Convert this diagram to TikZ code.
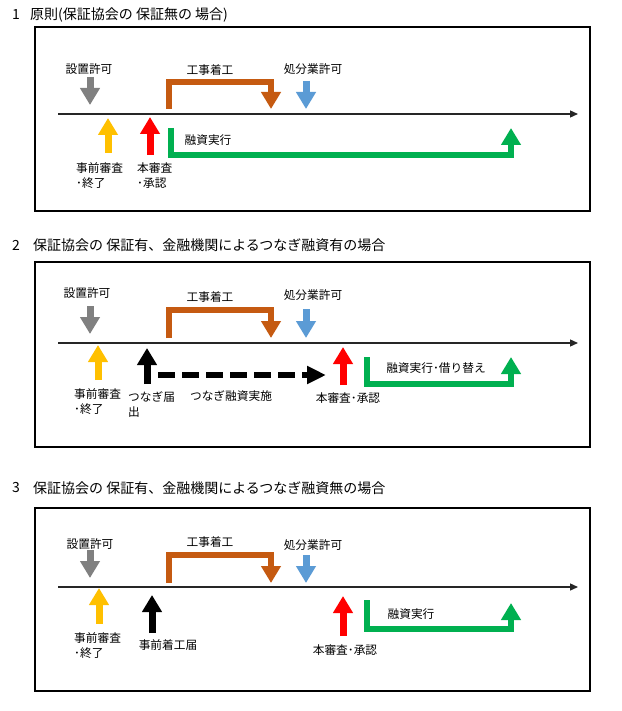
\documentclass[tikz,border=0pt]{standalone}
\usepackage{fontspec}
\setmainfont{Noto Sans CJK JP}
\usetikzlibrary{arrows.meta}
\definecolor{cgray}{HTML}{808080}
\definecolor{corange}{HTML}{C55A11}
\definecolor{cblue}{HTML}{5B9BD5}
\definecolor{cyellow}{HTML}{FFC000}
\definecolor{cred}{HTML}{FF0000}
\definecolor{cgreen}{HTML}{00B050}
\begin{document}
\begin{tikzpicture}[x=1pt,y=-1pt,
  lbl/.style={inner sep=0pt, font=\fontsize{11.7}{15}\selectfont, align=left},
  ttl/.style={inner sep=0pt, font=\fontsize{14}{16}\selectfont, anchor=west},
  frame/.style={draw=black, line width=1.1pt},
  tline/.style={draw=black!85, line width=1.3pt, -{Triangle[width=7pt,length=8pt]}},
  blk/.style={line width=7pt, -{Triangle[width=19pt,length=17pt]}},
  brk/.style={line width=6.5pt, line join=miter, -{Triangle[width=19pt,length=17pt]}},
  dsh/.style={line width=6pt, dash pattern=on 17pt off 7pt, -{Triangle[width=17pt,length=19pt]}}
]
\useasboundingbox (0,0) rectangle (621,711);
\fill[white] (0,0) rectangle (621,711);

% ---------------- Panel 1 ----------------
\node[ttl] (t1n) at (12,15) {1};
\node[ttl] (t1) at (30,15) {原則(保証協会の 保証無の 場合)};
\draw[frame] (35,27) rectangle (590,211);
\coordinate (a1) at (58,114); \coordinate (b1) at (578,114);
\draw[tline] (a1) -- (b1);
\draw[blk, cgray] (90,77) -- (90,105);
\node[lbl] (s1) at (89,69) {設置許可};
\draw[brk, corange] (169,109) -- (169,82) -- (271,82) -- (271,109);
\node[lbl] (k1) at (210,70) {工事着工};
\draw[blk, cblue] (306,81) -- (306,109);
\node[lbl] (h1) at (313,69) {処分業許可};
\draw[blk, cyellow] (108,153) -- (108,118);
\node[lbl, anchor=west] (j1) at (76,175.5) {事前審査\\･終了};
\draw[blk, cred] (150,155) -- (150,117);
\node[lbl, anchor=west] (r1) at (137,175.5) {本審査\\･承認};
\draw[brk, cgreen] (171,128) -- (171,155) -- (511,155) -- (511,128);
\node[lbl] (y1) at (208,140) {融資実行};

% ---------------- Panel 2 ----------------
\node[ttl] (t2n) at (12,245) {2};
\node[ttl] (t2) at (33,245) {保証協会の 保証有、金融機関によるつなぎ融資有の場合};
\draw[frame] (35,262) rectangle (590,447);
\coordinate (a2) at (58,343); \coordinate (b2) at (578,343);
\draw[tline] (a2) -- (b2);
\draw[blk, cgray] (90,306) -- (90,334);
\node[lbl] (s2) at (87,293) {設置許可};
\draw[brk, corange] (169,338) -- (169,310) -- (271,310) -- (271,338);
\node[lbl] (k2) at (210,297) {工事着工};
\draw[blk, cblue] (306,309) -- (306,338);
\node[lbl] (h2) at (313,295) {処分業許可};
\draw[blk, cyellow] (98,380) -- (98,345);
\node[lbl, anchor=west] (j2) at (74,402) {事前審査\\･終了};
\draw[blk, black] (147,384) -- (147,348);
\node[lbl, anchor=west] (n2) at (128,404.5) {つなぎ届\\出};
\draw[dsh, black] (158,375) -- (326,375);
\node[lbl] (d2) at (231,396) {つなぎ融資実施};
\draw[blk, cred] (343,385) -- (343,347);
\node[lbl] (r2) at (348,398) {本審査･承認};
\draw[brk, cgreen] (367,357) -- (367,384) -- (511,384) -- (511,357);
\node[lbl] (y2) at (436,368) {融資実行･借り替え};

% ---------------- Panel 3 ----------------
\node[ttl] (t3n) at (12,488) {3};
\node[ttl] (t3) at (33,488) {保証協会の 保証有、金融機関によるつなぎ融資無の場合};
\draw[frame] (35,508) rectangle (590,691);
\coordinate (a3) at (58,587); \coordinate (b3) at (578,587);
\draw[tline] (a3) -- (b3);
\draw[blk, cgray] (90,550) -- (90,578);
\node[lbl] (s3) at (90,544) {設置許可};
\draw[brk, corange] (169,583) -- (169,555) -- (271,555) -- (271,583);
\node[lbl] (k3) at (210,542) {工事着工};
\draw[blk, cblue] (306,555) -- (306,583);
\node[lbl] (h3) at (313,545) {処分業許可};
\draw[blk, cyellow] (99,624) -- (99,588);
\node[lbl, anchor=west] (j3) at (74,645.5) {事前審査\\･終了};
\draw[blk, black] (152,633) -- (152,595);
\node[lbl] (z3) at (168,645) {事前着工届};
\draw[blk, cred] (343,636) -- (343,596);
\node[lbl] (r3) at (345,650) {本審査･承認};
\draw[brk, cgreen] (367,600) -- (367,629) -- (511,629) -- (511,603);
\node[lbl] (y3) at (411,614) {融資実行};
\end{tikzpicture}
\end{document}
